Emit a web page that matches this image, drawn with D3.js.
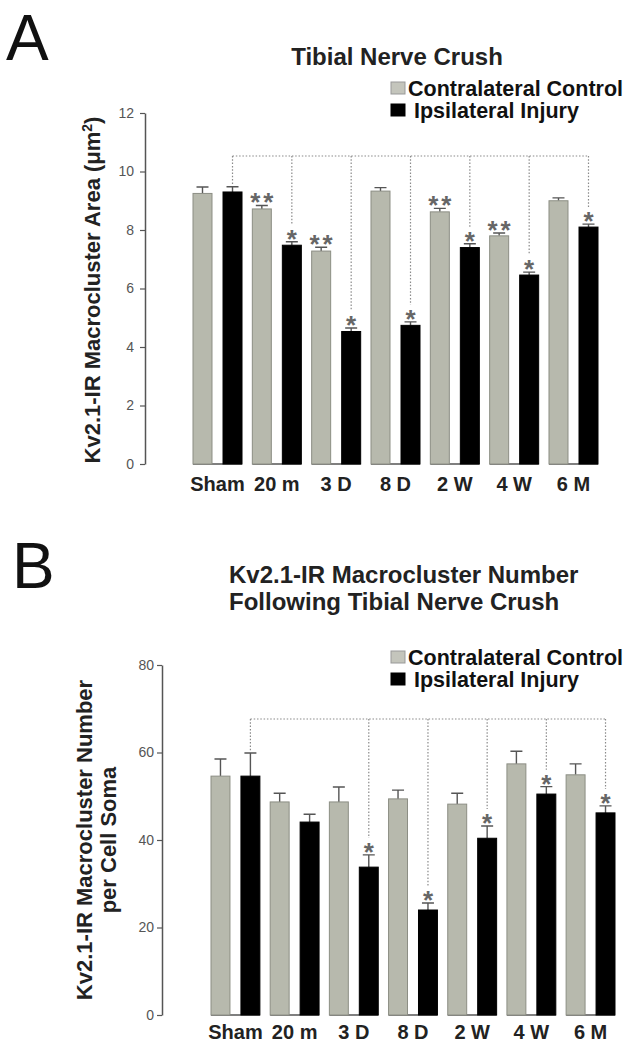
<!DOCTYPE html>
<html lang="en">
<head>
    <meta charset="UTF-8">
    <title>Kv2.1-IR macroclusters after tibial nerve crush</title>
    <script type="text/javascript" src="https://cdnjs.cloudflare.com/ajax/libs/d3/7.8.5/d3.min.js"></script>
    <style>
        body { margin: 0; background: white; }
        svg text { font-family: "Liberation Sans", Arial, sans-serif; }
    </style>
</head>
<body>
<svg id="fig" width="629" height="1046"></svg>

<script type="text/javascript">
    const categories = ["Sham", "20 m", "3 D", "8 D", "2 W", "4 W", "6 M"];

    // Panel A: macrocluster area (um^2)
    const areaControl    = [9.25, 8.72, 7.28, 9.33, 8.62, 7.80, 9.00];
    const areaControlSem = [0.22, 0.12, 0.13, 0.12, 0.12, 0.10, 0.10];
    const areaInjury     = [9.30, 7.48, 4.53, 4.74, 7.40, 6.46, 8.10];
    const areaInjurySem  = [0.18, 0.12, 0.12, 0.12, 0.13, 0.10, 0.10];
    const areaControlSig = ["", "**", "**", "", "**", "**", ""];
    const areaInjurySig  = ["", "*", "*", "*", "*", "*", "*"];
    const areaTicks = [0, 2, 4, 6, 8, 10, 12];

    // Panel B: macrocluster number per cell soma
    const numberControl    = [54.6, 48.7, 48.7, 49.4, 48.2, 57.4, 54.9];
    const numberControlSem = [3.9, 2.0, 3.4, 2.0, 2.5, 2.9, 2.5];
    const numberInjury     = [54.6, 44.1, 33.8, 24.0, 40.4, 50.5, 46.2];
    const numberInjurySem  = [5.3, 1.8, 2.8, 1.6, 2.8, 1.7, 1.6];
    const numberControlSig = ["", "", "", "", "", "", ""];
    const numberInjurySig  = ["", "", "*", "*", "*", "*", "*"];
    const numberTicks = [0, 20, 40, 60, 80];

    const legendLabels = ["Contralateral Control", "Ipsilateral Injury"];
    const grayFill = "#b7b9ad", grayStroke = "#8c8e84";

    const svg = d3.select("#fig");

    function drawPanel(p) {
        const g = svg.append("g");

        const x = d3.scaleBand()
            .domain(categories)
            .range(p.xRange)
            .paddingInner(0.174)
            .paddingOuter(0);
        const sub = d3.scaleBand()
            .domain(["ctrl", "inj"])
            .range([0, x.bandwidth()])
            .paddingInner(0.367);
        const y = d3.scaleLinear().domain(p.yDomain).range(p.yRange);

        // panel letter
        g.append("text").attr("x", p.letterX).attr("y", p.letterY)
            .attr("font-size", 64).attr("fill", "#111").text(p.letter);

        // title
        p.title.forEach(function(t, i) {
            g.append("text").attr("x", p.titleX).attr("y", p.titleY + i * 27)
                .attr("text-anchor", p.titleAnchor)
                .attr("font-size", 24).attr("font-weight", "bold").attr("fill", "#222")
                .text(t);
        });

        // legend
        legendLabels.forEach(function(l, i) {
            const cy = p.legendY + i * 22;
            g.append("rect").attr("x", 391).attr("y", cy - 6).attr("width", 14).attr("height", 12)
                .attr("fill", i === 0 ? "#c4c5bc" : "#000")
                .attr("stroke", i === 0 ? "#999" : "#000");
            g.append("text").attr("x", i === 0 ? 408 : 414).attr("y", cy + 7.5)
                .attr("font-size", 21.5).attr("font-weight", "bold").attr("fill", "#111")
                .text(l);
        });

        // y axis
        const axis = g.append("g")
            .attr("transform", "translate(" + p.axisX + ",0)")
            .call(d3.axisLeft(y).tickValues(p.ticks).tickSize(5).tickSizeOuter(0).tickPadding(p.tickPad));
        axis.select(".domain").attr("stroke", "#555").attr("stroke-width", 1.5);
        axis.selectAll(".tick line").attr("stroke", "#555").attr("stroke-width", 1.2);
        axis.selectAll(".tick text").attr("font-size", 14).attr("fill", "#555")
            .attr("font-family", "Liberation Sans, Arial, sans-serif");

        // y label
        p.yLabel.forEach(function(t, i) {
            const tx = g.append("text")
                .attr("transform", "translate(" + p.yLabelX[i] + "," + p.yLabelY + ") rotate(-90)")
                .attr("text-anchor", "middle")
                .attr("font-size", 22).attr("font-weight", "bold").attr("fill", "#222");
            if (t.sup) {
                tx.append("tspan").text(t.text);
                tx.append("tspan").attr("font-size", 14).attr("dy", -8).text(t.sup);
                tx.append("tspan").attr("dy", 8).text(")");
            } else {
                tx.text(t.text);
            }
        });

        const groups = categories.map(function(c, i) {
            return {
                cat: c,
                bars: [
                    {key: "ctrl", v: p.ctrl[i], e: p.ctrlSem[i], sig: p.ctrlSig[i]},
                    {key: "inj", v: p.inj[i], e: p.injSem[i], sig: p.injSig[i]}
                ]
            };
        });

        // dotted comparison lines from the sham injury bar
        const injX = function(c) { return x(c) + sub("inj") + sub.bandwidth() / 2; };
        const dot = g.append("g").attr("stroke", "#8a8a8a").attr("stroke-width", 1.2)
            .attr("stroke-dasharray", "1.5,1.8").attr("fill", "none");
        dot.append("line")
            .attr("x1", injX(categories[0])).attr("x2", injX(categories[categories.length - 1]))
            .attr("y1", p.bracketY).attr("y2", p.bracketY);
        groups.forEach(function(gr, i) {
            const b = gr.bars[1];
            if (i !== 0 && !b.sig) return;
            const errTop = y(b.v + b.e);
            const end = i === 0 ? errTop - 2 : errTop - 17;
            dot.append("line").attr("x1", injX(gr.cat)).attr("x2", injX(gr.cat))
                .attr("y1", p.bracketY).attr("y2", end);
        });

        const grp = g.selectAll(".grp").data(groups).enter().append("g")
            .attr("class", "grp")
            .attr("transform", function(d) { return "translate(" + x(d.cat) + ",0)"; });

        // baseline under each pair
        grp.append("line").attr("x1", 0).attr("x2", x.bandwidth())
            .attr("y1", y(0)).attr("y2", y(0)).attr("stroke", "#555").attr("stroke-width", 1.5);

        // error whiskers (upper only)
        grp.selectAll(".err").data(function(d) { return d.bars; }).enter().append("path")
            .attr("class", "err")
            .attr("fill", "none").attr("stroke", "#555").attr("stroke-width", 1.4)
            .attr("d", function(b) {
                const cx = sub(b.key) + sub.bandwidth() / 2;
                const t = y(b.v + b.e);
                return "M" + cx + "," + y(b.v) + "V" + t + "M" + (cx - 6) + "," + t + "H" + (cx + 6);
            });

        grp.selectAll(".bar").data(function(d) { return d.bars; }).enter().append("rect")
            .attr("class", "bar")
            .attr("x", function(b) { return sub(b.key); })
            .attr("width", sub.bandwidth())
            .attr("y", function(b) { return y(b.v); })
            .attr("height", function(b) { return y(0) - y(b.v); })
            .attr("fill", function(b) { return b.key === "ctrl" ? grayFill : "#000"; })
            .attr("stroke", function(b) { return b.key === "ctrl" ? grayStroke : "#000"; })
            .attr("stroke-width", 1);

        // significance asterisks
        grp.each(function(d) {
            const sel = d3.select(this);
            d.bars.forEach(function(b) {
                if (!b.sig) return;
                const cx = sub(b.key) + sub.bandwidth() / 2;
                const cy = y(b.v + b.e) - 9;
                const n = b.sig.length;
                for (let k = 0; k < n; k++) {
                    const off = n === 1 ? 0 : (k === 0 ? -6.5 : 6.5);
                    sel.append("text").attr("x", cx + off).attr("y", cy + 15)
                        .attr("text-anchor", "middle").attr("font-size", 26).attr("font-weight", "bold")
                        .attr("fill", "#666").text("*");
                }
            });
        });

        // category labels
        grp.append("text").attr("x", x.bandwidth() / 2).attr("y", p.catY)
            .attr("text-anchor", "middle").attr("font-size", 20).attr("font-weight", "bold")
            .attr("fill", "#222").text(function(d) { return d.cat; });
    }

    drawPanel({
        letter: "A", letterX: 6, letterY: 60,
        title: ["Tibial Nerve Crush"], titleX: 397, titleY: 65, titleAnchor: "middle",
        legendY: 88,
        xRange: [193, 598], yDomain: [0, 12], yRange: [464, 113],
        axisX: 145, tickPad: 6, ticks: areaTicks,
        yLabel: [{text: "Kv2.1-IR Macrocluster Area (\u03bcm", sup: "2"}], yLabelX: [100], yLabelY: 290,
        ctrl: areaControl, ctrlSem: areaControlSem, ctrlSig: areaControlSig,
        inj: areaInjury, injSem: areaInjurySem, injSig: areaInjurySig,
        bracketY: 156, catY: 491
    });

    drawPanel({
        letter: "B", letterX: 12, letterY: 588,
        title: ["Kv2.1-IR Macrocluster Number", "Following Tibial Nerve Crush"],
        titleX: 229, titleY: 583, titleAnchor: "start",
        legendY: 657,
        xRange: [211, 615], yDomain: [0, 80], yRange: [1015, 665],
        axisX: 162, tickPad: 3, ticks: numberTicks,
        yLabel: [{text: "Kv2.1-IR Macrocluster Number"}, {text: "per Cell Soma"}],
        yLabelX: [92, 116], yLabelY: 840,
        ctrl: numberControl, ctrlSem: numberControlSem, ctrlSig: numberControlSig,
        inj: numberInjury, injSem: numberInjurySem, injSig: numberInjurySig,
        bracketY: 719, catY: 1039
    });
</script>
</body>
</html>
